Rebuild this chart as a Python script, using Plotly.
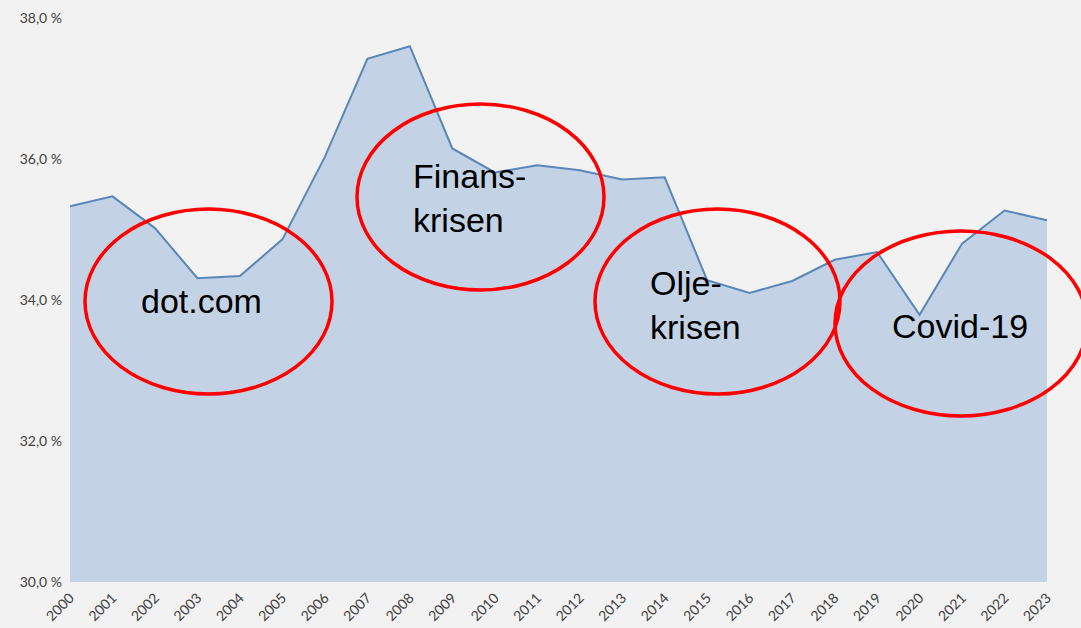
import plotly.graph_objects as go

years = list(range(2000, 2024))
values = [35.33, 35.47, 35.02, 34.31, 34.34, 34.86, 36.03, 37.42, 37.60, 36.15,
          35.81, 35.91, 35.84, 35.71, 35.74, 34.28, 34.10, 34.27, 34.57, 34.68,
          33.79, 34.80, 35.27, 35.13]
y_ticks = [30, 32, 34, 36, 38]
y_tick_labels = ["30,0 %", "32,0 %", "34,0 %", "36,0 %", "38,0 %"]

W, H = 1081, 628
L, R, T, B = 70, 1047, 18, 582

def px(x):
    return (x - L) / (R - L)

def py(y):
    return (B - y) / (B - T)

fig = go.Figure()
fig.add_trace(go.Scatter(
    x=years, y=values, mode="lines",
    line=dict(color="#5b86b8", width=2),
    fill="tozeroy", fillcolor="#c3d2e5",
    hoverinfo="skip", showlegend=False,
))

ellipses = [
    (85, 209, 332, 394),
    (357, 104, 604, 290),
    (595, 209, 840, 394),
    (835, 231, 1087, 416),
]
shapes = []
for x0, y0, x1, y1 in ellipses:
    shapes.append(dict(type="circle", xref="paper", yref="paper",
                       x0=px(x0), x1=px(x1), y0=py(y1), y1=py(y0),
                       line=dict(color="#ff0000", width=3.5)))

labels = [
    ("dot.com", 139, 301),
    ("Finans-<br>krisen", 411, 198),
    ("Olje-<br>krisen", 648, 305),
    ("Covid-19", 890, 326),
]
annotations = []
for text, x, y in labels:
    annotations.append(dict(text=text, xref="paper", yref="paper",
                            x=px(x), y=py(y), xanchor="left", yanchor="middle",
                            align="left", showarrow=False,
                            font=dict(family="Liberation Sans, Arial", size=34, color="#000000")))

tick_font = dict(family="Lato", size=14, color="#404040")
fig.update_layout(
    width=W, height=H,
    margin=dict(l=L, r=W - R, t=T, b=H - B, pad=0, autoexpand=False),
    paper_bgcolor="#f2f2f2", plot_bgcolor="#f2f2f2",
    shapes=shapes, annotations=annotations,
    xaxis=dict(range=[2000, 2023], tickmode="array", tickvals=years,
               ticktext=[str(y) for y in years], tickangle=-45,
               showgrid=False, zeroline=False, showline=False, ticks="",
               ticklabelstandoff=4, tickfont=tick_font, automargin=False),
    yaxis=dict(range=[30, 38], tickmode="array", tickvals=y_ticks,
               ticktext=y_tick_labels, showgrid=False, zeroline=False,
               showline=False, ticks="", ticklabelstandoff=7,
               tickfont=tick_font, automargin=False),
)

fig.write_html("out.html")
